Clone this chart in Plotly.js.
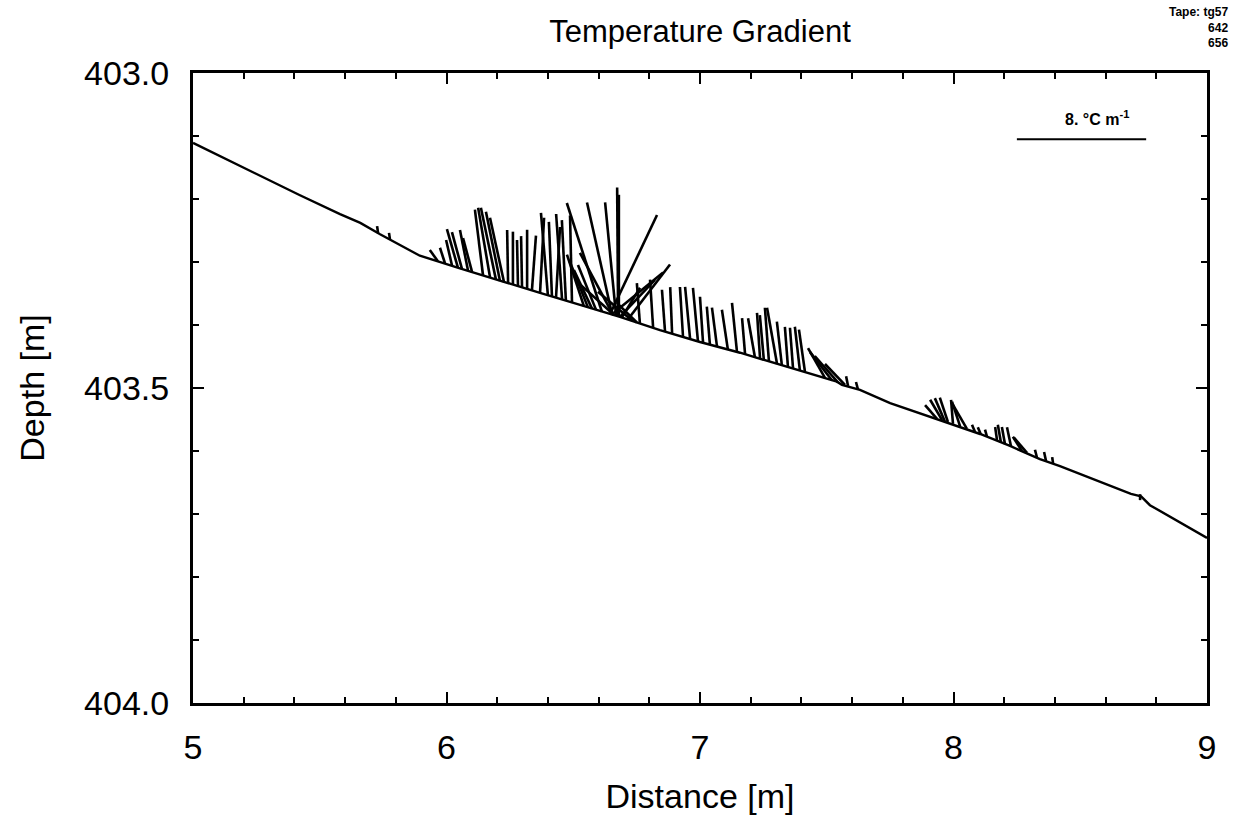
<!DOCTYPE html>
<html>
<head>
<meta charset="utf-8">
<script src="https://cdn.plot.ly/plotly-3.0.1.min.js"></script>
<style>html,body{margin:0;padding:0;background:#fff;}#chart{width:1234px;height:828px;}</style>
</head>
<body>
<div id="chart"></div>
<script>
// ---- bottom profile (distance m, depth m) ----
const profileDist  = [5.000,5.146,5.276,5.422,5.580,5.620,5.660,5.738,5.895,6.053,6.211,6.369,6.527,6.684,6.842,7.000,7.158,7.316,7.473,7.540,7.560,7.631,7.750,7.868,7.986,8.105,8.223,8.341,8.420,8.538,8.657,8.700,8.720,8.740,8.775,8.893,9.000];
const profileDepth = [403.111,403.140,403.165,403.194,403.224,403.231,403.238,403.256,403.290,403.310,403.330,403.349,403.368,403.387,403.408,403.427,403.444,403.463,403.481,403.490,403.495,403.503,403.524,403.540,403.556,403.573,403.592,403.613,403.624,403.643,403.662,403.668,403.670,403.672,403.686,403.713,403.738];

// ---- temperature-gradient vectors: base (distance, depth) and components (°C/m; gz positive = upward) ----
const stickDist  = [5.730,5.777,
  5.966,5.994,6.022,6.045,6.061,6.085,6.101,6.144,6.172,6.195,6.211,6.227,6.243,6.262,6.282,6.298,6.318,6.337,6.369,6.400,6.416,6.432,6.456,6.471,6.495,6.542,6.558,6.574,6.590,
  6.613,6.653,6.669,6.677,6.680,6.645,6.657,6.661,6.653,6.684,6.751,6.732,6.692,6.716,
  6.763,6.815,6.862,6.890,
  6.933,6.961,6.992,7.012,7.039,7.067,7.110,7.146,7.178,7.217,7.237,7.252,7.272,7.304,7.323,7.347,7.367,7.394,7.414,7.493,7.521,7.544,7.572,7.584,7.623,
  7.935,7.955,7.966,7.978,7.998,8.026,8.053,8.085,8.108,8.132,8.172,8.187,8.203,8.227,8.270,8.290,8.329,8.365,8.393,
  8.736];
const stickDepth = [403.254,403.264,
  403.299,403.302,403.306,403.309,403.311,403.314,403.316,403.321,403.325,403.328,403.330,403.332,403.334,403.336,403.339,403.341,403.343,403.345,403.349,403.353,403.355,403.357,403.360,403.362,403.364,403.370,403.372,403.374,403.376,
  403.379,403.383,403.385,403.386,403.387,403.383,403.384,403.384,403.383,403.387,403.396,403.393,403.388,403.391,
  403.398,403.404,403.410,403.414,
  403.419,403.422,403.426,403.428,403.431,403.434,403.439,403.443,403.447,403.452,403.454,403.456,403.458,403.462,403.464,403.467,403.469,403.472,403.474,403.484,403.488,403.491,403.495,403.497,403.502,
  403.549,403.551,403.553,403.554,403.557,403.561,403.565,403.570,403.574,403.577,403.584,403.586,403.589,403.593,403.600,403.603,403.610,403.616,403.620,
  403.678];
const stickGx = [-0.06,-0.06,
  -0.50,-0.31,-0.37,-0.68,-0.62,-0.50,-0.56,-0.50,-0.74,-0.93,-0.87,-0.87,-0.06,0.00,-0.06,-0.06,0.00,0.25,0.25,-0.43,-0.19,0.25,-0.37,-0.25,-0.12,-1.05,-1.12,-1.12,-1.12,
  -2.17,-1.55,-0.68,-0.06,0.00,2.91,-2.05,-2.29,3.16,2.17,-1.24,-2.11,1.12,2.60,
  -0.19,-0.19,-0.19,-0.12,
  -0.19,-0.31,-0.31,-0.19,-0.19,-0.31,-0.37,-0.31,-0.19,-0.43,-0.19,-0.25,-0.25,-0.62,-0.31,-0.19,-0.19,-0.31,-0.37,-1.05,-1.36,-1.43,-1.24,-0.12,-0.12,
  -0.74,-0.74,-0.62,-0.50,-0.12,-0.50,-0.87,-0.19,-0.19,-0.12,-0.12,-0.19,-0.19,-0.25,-0.56,-0.81,-0.12,-0.12,-0.06,
  0.00];
const stickGz = [0.43,0.40,
  0.71,0.96,1.59,2.38,2.28,2.52,2.10,4.06,4.33,4.45,4.28,3.98,3.31,3.28,2.88,3.20,3.67,3.39,4.65,5.11,4.63,4.39,5.31,5.01,5.37,3.18,2.82,2.39,2.78,
  6.73,6.92,7.00,7.96,7.55,6.14,3.84,2.06,2.58,2.29,1.21,1.79,1.84,3.39,
  2.51,2.96,2.57,2.89,
  3.09,3.22,3.31,2.84,2.34,2.40,2.46,3.05,2.26,2.45,2.85,2.80,3.33,3.48,2.70,2.49,2.52,2.70,2.60,1.85,1.75,1.63,1.29,0.61,0.45,
  0.85,1.26,1.44,1.51,1.49,1.53,1.50,0.45,0.46,0.42,0.86,1.08,1.05,1.20,0.88,0.95,0.47,0.56,0.40,
  0.37];

// ---- scale reference ----
const refGrad = 8;          // °C/m
const refLabel = '8. °C m<sup>-1</sup>';

// axes
const xTickVals = [5,6,7,8,9];
const yTickVals = [403.0,403.5,404.0];

// ---- geometry ----
const W = 1234, H = 828;
const M = {l:193, r:27, t:73, b:125};
const plotW = W - M.l - M.r, plotH = H - M.t - M.b;
const xR = [5,9], yR = [404,403];
const pxPerX = plotW/(xR[1]-xR[0]);
const pxPerDepth = plotH/Math.abs(yR[0]-yR[1]);
const refBarLen = 0.51;   // length on distance axis representing refGrad
const kx = refBarLen/refGrad;
const ky = kx*pxPerX/pxPerDepth;

const sx = [], sy = [];
for (let i=0;i<stickDist.length;i++){
  sx.push(stickDist[i], stickDist[i] + stickGx[i]*kx, null);
  sy.push(stickDepth[i], stickDepth[i] - stickGz[i]*ky, null);
}
const barX0 = 8.25, barDepth = 403.105;

const font = 'Liberation Sans, Arial, sans-serif';

const traces = [
  {x: profileDist, y: profileDepth, mode:'lines', line:{color:'#000', width:2.4}, hoverinfo:'skip', showlegend:false},
  {x: sx, y: sy, mode:'lines', line:{color:'#000', width:2.6}, hoverinfo:'skip', showlegend:false, connectgaps:false},
  {x: [barX0, barX0+refBarLen], y:[barDepth, barDepth], mode:'lines', line:{color:'#000', width:2}, hoverinfo:'skip', showlegend:false}
];

const layout = {
  width: W, height: H,
  margin: M,
  paper_bgcolor:'#fff', plot_bgcolor:'#fff',
  showlegend:false,
  title: {text:'Temperature Gradient', font:{family:font, size:31, color:'#000'}, xref:'paper', x:0.5, xanchor:'center', yref:'container', y:1-31/H, yanchor:'middle'},
  xaxis: {
    range: xR, tickvals: xTickVals, ticktext: xTickVals.map(String),
    ticks:'inside', ticklen:11, tickwidth:2, tickcolor:'#000',
    minor:{dtick:0.2, tick0:5, ticks:'inside', ticklen:6, tickwidth:2, tickcolor:'#000', showgrid:false},
    showline:true, linewidth:3, linecolor:'#000', mirror:'ticks',
    showgrid:false, zeroline:false,
    tickfont:{family:font, size:34, color:'#000'},
    ticklabelstandoff: 12,
    title:{text:'Distance [m]', font:{family:font, size:34, color:'#000'}, standoff:20}
  },
  yaxis: {
    range: yR, tickvals: yTickVals, tickformat:'.1f',
    ticks:'inside', ticklen:11, tickwidth:2, tickcolor:'#000',
    minor:{dtick:0.1, tick0:403, ticks:'inside', ticklen:6, tickwidth:2, tickcolor:'#000', showgrid:false},
    showline:true, linewidth:3, linecolor:'#000', mirror:'ticks',
    showgrid:false, zeroline:false,
    tickfont:{family:font, size:34, color:'#000'},
    ticklabelstandoff: 14,
    title:{text:'Depth [m]', font:{family:font, size:34, color:'#000'}, standoff:30}
  },
  annotations: [
    {text: refLabel, x: barX0+refBarLen/2+0.06, y: barDepth-0.014, xref:'x', yref:'y', yanchor:'bottom', showarrow:false,
     font:{family:font, size:16, color:'#000', weight:'bold'}},
    {text:'Tape: tg57<br>642<br>656', xref:'paper', yref:'paper', x:(W-4-M.l)/plotW, y:1+(M.t-3)/plotH, xanchor:'right', yanchor:'top', align:'right', showarrow:false,
     font:{family:font, size:12, color:'#000', weight:'bold'}}
  ]
};

Plotly.newPlot('chart', traces, layout, {staticPlot:true, displayModeBar:false});
</script>
</body>
</html>
